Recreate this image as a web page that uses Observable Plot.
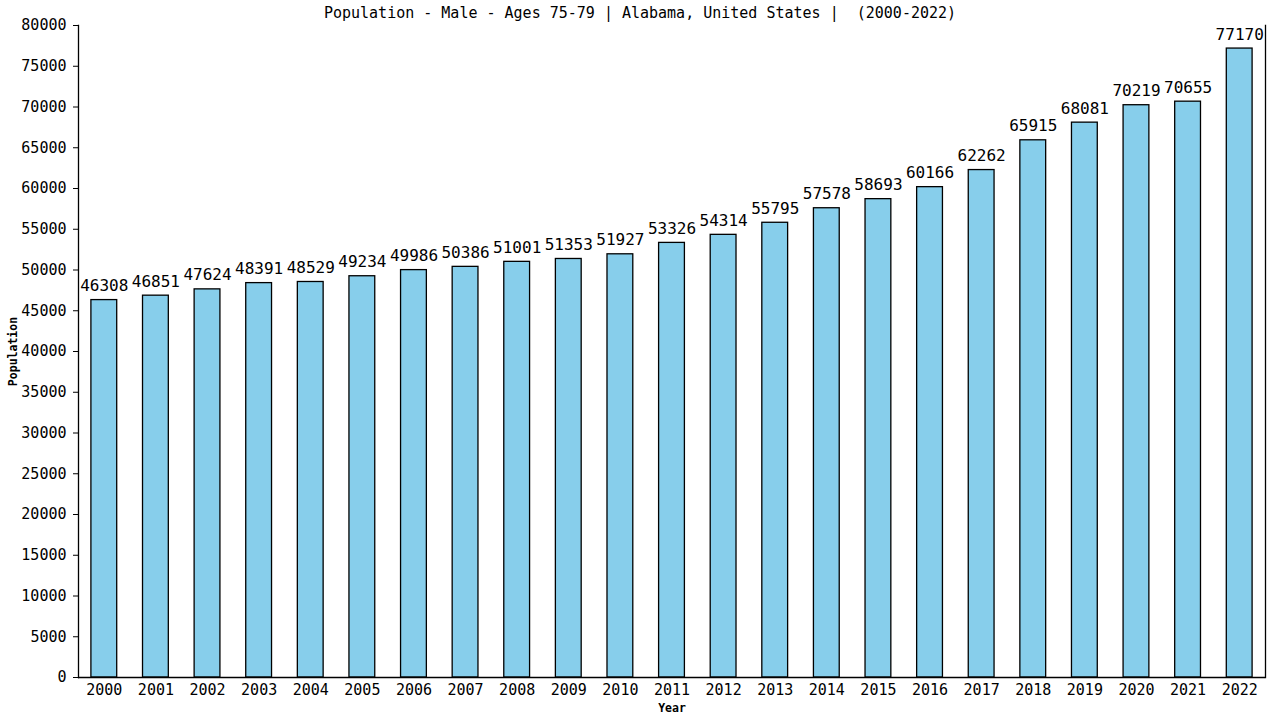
<!DOCTYPE html>
<html>
<head>
<meta charset="utf-8">
<script src="https://cdn.jsdelivr.net/npm/d3@7"></script>
<script src="https://cdn.jsdelivr.net/npm/@observablehq/plot@0.6"></script>
<style>
  html, body { margin: 0; padding: 0; background: #fff; }
  svg { overflow: visible; }
</style>
</head>
<body>
<div id="chart"></div>
<script>
const years = ["2000","2001","2002","2003","2004","2005","2006","2007","2008","2009","2010","2011","2012","2013","2014","2015","2016","2017","2018","2019","2020","2021","2022"];
const population = [46308,46851,47624,48391,48529,49234,49986,50386,51001,51353,51927,53326,54314,55795,57578,58693,60166,62262,65915,68081,70219,70655,77170];
const yTicks = d3.range(0, 80001, 5000);
const title = "Population - Male - Ages 75-79 | Alabama, United States |  (2000-2022)";

const data = years.map((y, i) => ({year: y, value: population[i]}));
const font = "DejaVu Sans Mono, monospace";

const chart = Plot.plot({
  width: 1280,
  height: 720,
  marginLeft: 78,
  marginRight: 15,
  marginTop: 25,
  marginBottom: 43,
  style: {fontFamily: font, fontSize: "15px", color: "#000", background: "#fff"},
  x: {domain: years, paddingInner: 0.5, paddingOuter: 0.25, round: false, label: null},
  y: {domain: [0, 80000], label: null},
  marks: [
    Plot.barY(data, {x: "year", y: "value", fill: "#87ceeb", stroke: "#000", strokeWidth: 1.3}),
    Plot.text(data, {x: "year", y: "value", text: d => String(d.value), dy: -9, lineAnchor: "bottom", fontSize: 16, fill: "#000"}),
    Plot.axisY({ticks: yTicks, tickSize: 5, tickPadding: 7, tickFormat: d => String(d), fontSize: 15, label: null}),
    Plot.axisX({tickSize: 0, tickPadding: 7, fontSize: 15, label: null}),
    Plot.ruleY([0], {stroke: "#000", strokeWidth: 1.3}),
    Plot.frame({anchor: "left", stroke: "#000", strokeWidth: 1.3}),
    Plot.frame({anchor: "right", stroke: "#000", strokeWidth: 1.3}),
    Plot.text([title], {frameAnchor: "top", dx: -32, dy: -12, lineAnchor: "middle", textAnchor: "middle", fontSize: 15, fill: "#000"}),
    Plot.text(["Population"], {frameAnchor: "left", dx: -65, rotate: -90, textAnchor: "middle", lineAnchor: "middle", fontSize: 11.5, fontWeight: "bold", fill: "#000"}),
    Plot.text(["Year"], {frameAnchor: "bottom", dy: 31, textAnchor: "middle", lineAnchor: "middle", fontSize: 11.5, fontWeight: "bold", fill: "#000"})
  ]
});
document.getElementById("chart").appendChild(chart);
</script>
</body>
</html>
